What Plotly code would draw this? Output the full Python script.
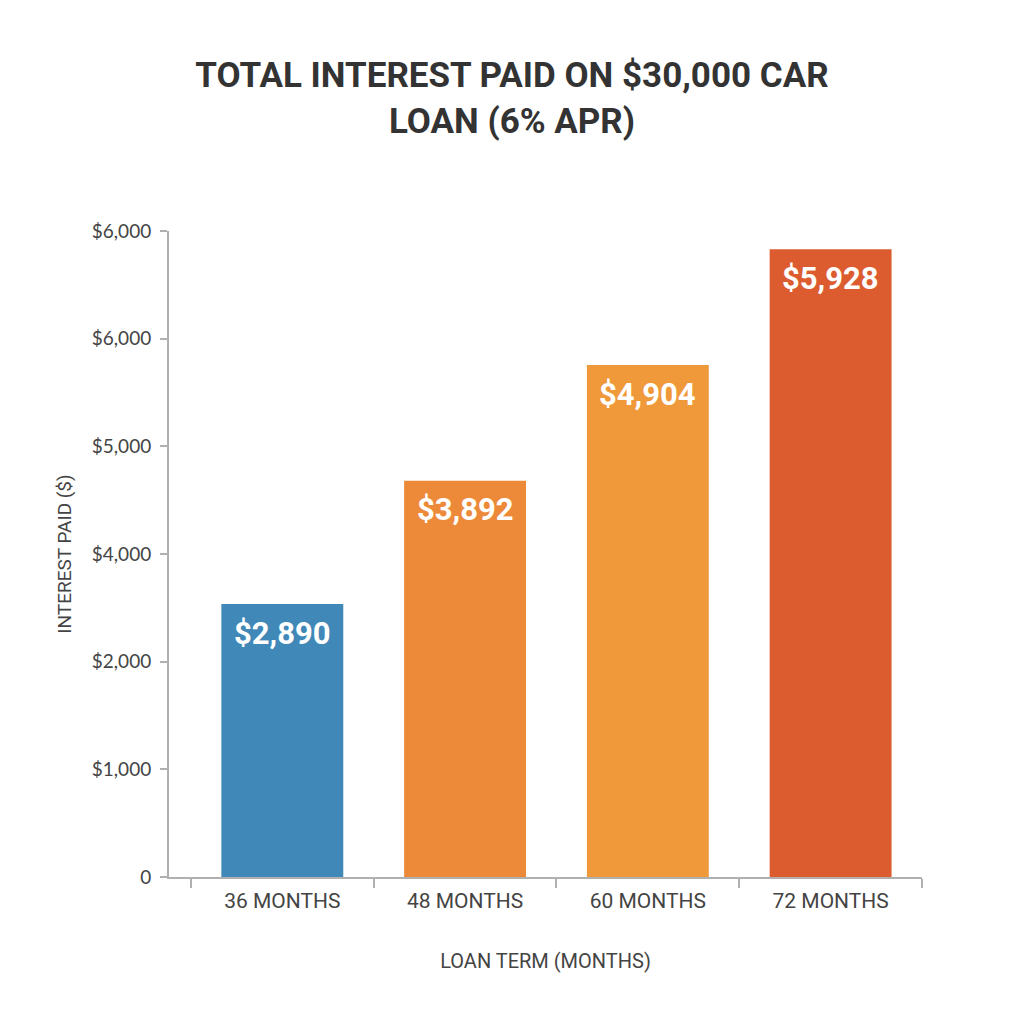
import plotly.graph_objects as go

categories = ["36 MONTHS", "48 MONTHS", "60 MONTHS", "72 MONTHS"]
bar_heights = [2535, 3680, 4755, 5830]          # heights as drawn against the axis
bar_labels = ["$2,890", "$3,892", "$4,904", "$5,928"]  # labels printed on the bars
bar_colors = ["#3f88b8", "#ec8a3a", "#f0993a", "#dc5c30"]
y_tickvals = [0, 1000, 2000, 3000, 4000, 5000, 6000]
y_ticktext = ["0", "$1,000", "$2,000", "$4,000", "$5,000", "$6,000", "$6,000"]

fig = go.Figure()
fig.add_trace(go.Bar(
    x=categories, y=bar_heights,
    marker=dict(color=bar_colors, line=dict(width=0)),
    hoverinfo="skip",
))

for c, h, t in zip(categories, bar_heights, bar_labels):
    fig.add_annotation(x=c, y=h, text=t, showarrow=False, yanchor="middle",
                       yshift=-29,
                       font=dict(family="Roboto", size=31, color="white", weight="bold"))

fig.update_layout(
    width=1024, height=1024,
    margin=dict(l=169, r=102, t=231, b=147),
    paper_bgcolor="white", plot_bgcolor="white",
    bargap=0.333,
    showlegend=False,
    title=dict(text="TOTAL INTEREST PAID ON $30,000 CAR<br>LOAN (6% APR)",
               x=0.5, xref="container", xanchor="center",
               y=0.915, yref="container", yanchor="middle",
               font=dict(family="Roboto", size=35, color="#333333", weight="bold")),
    xaxis=dict(
        range=[-0.62, 3.5],
        showline=True, linecolor="#b0b0b0", linewidth=2,
        ticks="outside", tickson="boundaries", ticklen=9, tickcolor="#b0b0b0", tickwidth=1.5,
        ticklabelstandoff=4,
        tickfont=dict(family="Roboto", size=21, color="#444444"),
        title=dict(text="LOAN TERM (MONTHS)", standoff=42,
                   font=dict(family="Roboto", size=20, color="#444444")),
        showgrid=False, zeroline=False, fixedrange=True,
    ),
    yaxis=dict(
        range=[0, 6000],
        tickvals=y_tickvals, ticktext=y_ticktext,
        showline=True, linecolor="#b0b0b0", linewidth=2,
        ticks="outside", ticklen=7, tickcolor="#b0b0b0", tickwidth=1.5,
        ticklabelstandoff=5,
        tickfont=dict(family="Lato", size=19, color="#444444"),
        title=dict(text="INTEREST PAID ($)", standoff=15,
                   font=dict(family="Roboto", size=19, color="#444444")),
        showgrid=False, zeroline=False, fixedrange=True,
    ),
)

fig.write_html("out.html")
